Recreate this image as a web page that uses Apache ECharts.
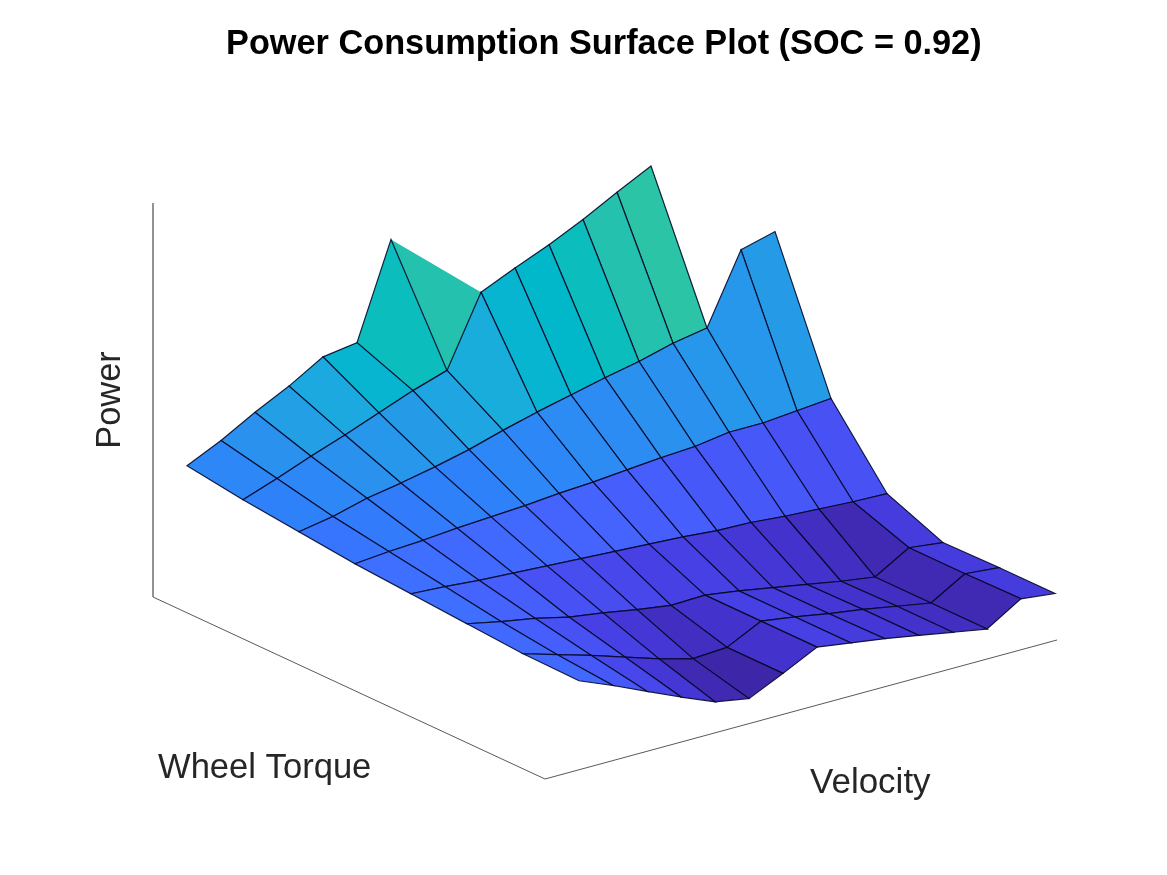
<!DOCTYPE html>
<html>
<head>
<meta charset="utf-8">
<title>Power Consumption Surface Plot</title>
<style>html,body{margin:0;padding:0;background:#fff}#chart{width:1167px;height:875px}</style>
<script src="https://cdn.jsdelivr.net/npm/echarts@6/dist/echarts.min.js"></script>
</head>
<body>
<div id="chart"></div>
<script>
// Grid samples: wheel torque runs from the back of the floor to the front,
// velocity runs from the left of the floor to the right.
const torqueSteps = [0, 1, 2, 3, 4, 5, 6, 7];
const velocitySteps = [1, 2, 3, 4, 5, 6, 7, 8, 9, 10, 11, 12, 13, 14, 15];

// Power per torque step; null marks operating points outside the drive's limits.
const powerT0 = [122, 138, 157, 174, 194, 199, 293, null, null, null, null, null, null, null, null];
const powerT1 = [114, 126, 139, 151, 164, 177, 188, 257, 272, 286, 302, 320, 337, null, null];
const powerT2 = [108, 114, 123, 129, 136, 144, 154, 163, 171, 179, 186, 195, 201, 270, 279];
const powerT3 = [102, 105, 107, 110, 112, 114, 117, 119, 122, 125, 127, 132, 132, 135, 138];
const powerT4 = [98, 96, 93, 91, 89, 87, 85, 83, 81, 78, 77, 74, 72, 70, 69];
const powerT5 = [94, 87, 81, 73, 68, 62, 57, 58, 53, 47, 41, 35, 30, 50, 46];
const powerT6 = [90, 80, 70, 59, 48, 39, 41, 58, 53, 47, 42, 36, 30, 50, 47];
const powerT7 = [89, 75, 60, 45, 31, 25, 41, 58, 53, 48, 42, 36, 30, 51, 47];
const power = [powerT0, powerT1, powerT2, powerT3, powerT4, powerT5, powerT6, powerT7];

// Axis limits of the three dimensional box.
const torqueMax = 7;
const velocityMax = 15.06;
const powerMax = 394;

// 64 step parula colormap.
const parula = [
  [0.2422,0.1504,0.6603],[0.2504,0.1650,0.7076],[0.2578,0.1818,0.7511],[0.2647,0.1978,0.7952],
  [0.2706,0.2147,0.8364],[0.2751,0.2342,0.8710],[0.2783,0.2559,0.8991],[0.2803,0.2782,0.9221],
  [0.2813,0.3006,0.9414],[0.2810,0.3228,0.9579],[0.2795,0.3447,0.9717],[0.2760,0.3667,0.9829],
  [0.2699,0.3892,0.9906],[0.2602,0.4123,0.9952],[0.2440,0.4358,0.9988],[0.2206,0.4603,0.9973],
  [0.1963,0.4847,0.9892],[0.1834,0.5074,0.9798],[0.1786,0.5289,0.9682],[0.1764,0.5499,0.9520],
  [0.1687,0.5703,0.9359],[0.1540,0.5902,0.9218],[0.1460,0.6091,0.9079],[0.1380,0.6276,0.8973],
  [0.1248,0.6459,0.8883],[0.1113,0.6635,0.8763],[0.0952,0.6798,0.8598],[0.0689,0.6948,0.8394],
  [0.0297,0.7082,0.8163],[0.0036,0.7203,0.7917],[0.0067,0.7312,0.7660],[0.0433,0.7411,0.7394],
  [0.0964,0.7500,0.7120],[0.1408,0.7584,0.6842],[0.1717,0.7670,0.6554],[0.1938,0.7758,0.6251],
  [0.2161,0.7843,0.5923],[0.2470,0.7918,0.5567],[0.2906,0.7973,0.5188],[0.3406,0.8008,0.4789],
  [0.3909,0.8029,0.4354],[0.4456,0.8024,0.3909],[0.5044,0.7993,0.3480],[0.5616,0.7942,0.3045],
  [0.6174,0.7876,0.2612],[0.6720,0.7793,0.2227],[0.7242,0.7698,0.1910],[0.7738,0.7598,0.1646],
  [0.8203,0.7498,0.1535],[0.8634,0.7406,0.1596],[0.9035,0.7330,0.1774],[0.9393,0.7288,0.2100],
  [0.9728,0.7298,0.2394],[0.9956,0.7434,0.2371],[0.9970,0.7659,0.2199],[0.9952,0.7861,0.1967],
  [0.9892,0.8136,0.1885],[0.9786,0.8386,0.1766],[0.9676,0.8639,0.1643],[0.9610,0.8890,0.1537],
  [0.9597,0.9135,0.1423],[0.9628,0.9373,0.1265],[0.9691,0.9606,0.1064],[0.9769,0.9839,0.0805]
];

// Fixed view of the box: how one unit of each dimension lands on the view plane.
const view = {
  originY: 182,
  torque: [56, -26],
  velocity: [34, 9.23],
  power: 1
};

function project(t, v, p) {
  return [
    view.torque[0] * t + view.velocity[0] * v,
    view.originY + view.torque[1] * t + view.velocity[1] * v + view.power * p
  ];
}

const allPower = power.flat().filter(function (d) { return d !== null; });
const powerLow = Math.min.apply(null, allPower);
const powerHigh = Math.max.apply(null, allPower);

function colorOf(p) {
  const t = (p - powerLow) / (powerHigh - powerLow);
  const k = Math.min(parula.length - 1, Math.floor(t * parula.length));
  const c = parula[k];
  return 'rgb(' + Math.round(c[0] * 255) + ',' + Math.round(c[1] * 255) + ',' + Math.round(c[2] * 255) + ')';
}

// Faces are listed back to front so nearer ones paint over farther ones.
const faces = [];
for (let i = 0; i < torqueSteps.length - 1; i++) {
  for (let j = velocitySteps.length - 2; j >= 0; j--) {
    const a = power[i][j], b = power[i][j + 1], c = power[i + 1][j + 1], d = power[i + 1][j];
    if (a !== null && b === null && c !== null && d !== null && i === 0) {
      // The wedge where the torque limit cuts a face in two.
      faces.push([i, j, a, a, c, d, d, 0]);
    } else if (a !== null && b !== null && c !== null && d !== null) {
      faces.push([i, j, a, b, c, d, d, 1]);
    }
  }
}

const surface = {
  type: 'custom',
  coordinateSystem: 'cartesian2d',
  silent: true,
  clip: false,
  animation: false,
  data: faces,
  z: 3,
  renderItem: function (params, api) {
    const i = api.value(0), j = api.value(1);
    const t0 = torqueSteps[i], t1 = torqueSteps[i + 1];
    const v0 = velocitySteps[j], v1 = velocitySteps[j + 1];
    const stroked = api.value(7) === 1;
    const corners = stroked
      ? [[t0, v0, api.value(2)], [t0, v1, api.value(3)], [t1, v1, api.value(4)], [t1, v0, api.value(5)]]
      : [[t0, v0, api.value(2)], [t1, v1, api.value(4)], [t1, v0, api.value(5)]];
    return {
      type: 'polygon',
      shape: { points: corners.map(function (q) { return api.coord(project(q[0], q[1], q[2])); }) },
      style: {
        fill: colorOf(api.value(6)),
        stroke: stroked ? 'rgba(4,8,40,0.9)' : null,
        lineWidth: stroked ? 1.2 : 0
      }
    };
  }
};

// Box edges: power upright, torque and velocity along the floor.
const boxEdges = [
  [0, 0, 0, 0, 0, powerMax, '#262626'],
  [0, 0, 0, torqueMax, 0, 0, '#5a5a5a'],
  [torqueMax, 0, 0, torqueMax, velocityMax, 0, '#5a5a5a']
];

const box = {
  type: 'custom',
  coordinateSystem: 'cartesian2d',
  silent: true,
  clip: false,
  animation: false,
  data: boxEdges,
  z: 2,
  renderItem: function (params, api) {
    const from = api.coord(project(api.value(0), api.value(1), api.value(2)));
    const to = api.coord(project(api.value(3), api.value(4), api.value(5)));
    return {
      type: 'line',
      shape: { x1: from[0], y1: from[1], x2: to[0], y2: to[1] },
      style: { stroke: boxEdges[params.dataIndex][6], lineWidth: 1 }
    };
  }
};

const fontFamily = '"Liberation Sans", Arial, sans-serif';
const chart = echarts.init(document.getElementById('chart'), null, { renderer: 'canvas' });
chart.setOption({
  animation: false,
  backgroundColor: '#ffffff',
  title: {
    text: 'Power Consumption Surface Plot (SOC = 0.92)',
    left: 221,
    top: 23,
    textStyle: { fontFamily: fontFamily, fontWeight: 'bold', fontSize: 34.3, color: '#000000' }
  },
  grid: { left: 153, right: 110, top: 203, bottom: 96 },
  xAxis: { type: 'value', min: 0, max: 904, show: false },
  yAxis: { type: 'value', min: 0, max: 576, show: false },
  series: [box, surface],
  graphic: [
    {
      type: 'text', left: 158, top: 751,
      style: { text: 'Wheel Torque', fontFamily: fontFamily, fontSize: 34.6, fill: '#262626' }
    },
    {
      type: 'text', left: 810, top: 766,
      style: { text: 'Velocity', fontFamily: fontFamily, fontSize: 35, fill: '#262626' }
    },
    {
      type: 'text', x: 111, y: 400, rotation: Math.PI / 2,
      style: { text: 'Power', fontFamily: fontFamily, fontSize: 34.4, fill: '#262626', align: 'center', verticalAlign: 'middle' }
    }
  ]
});
</script>
</body>
</html>
